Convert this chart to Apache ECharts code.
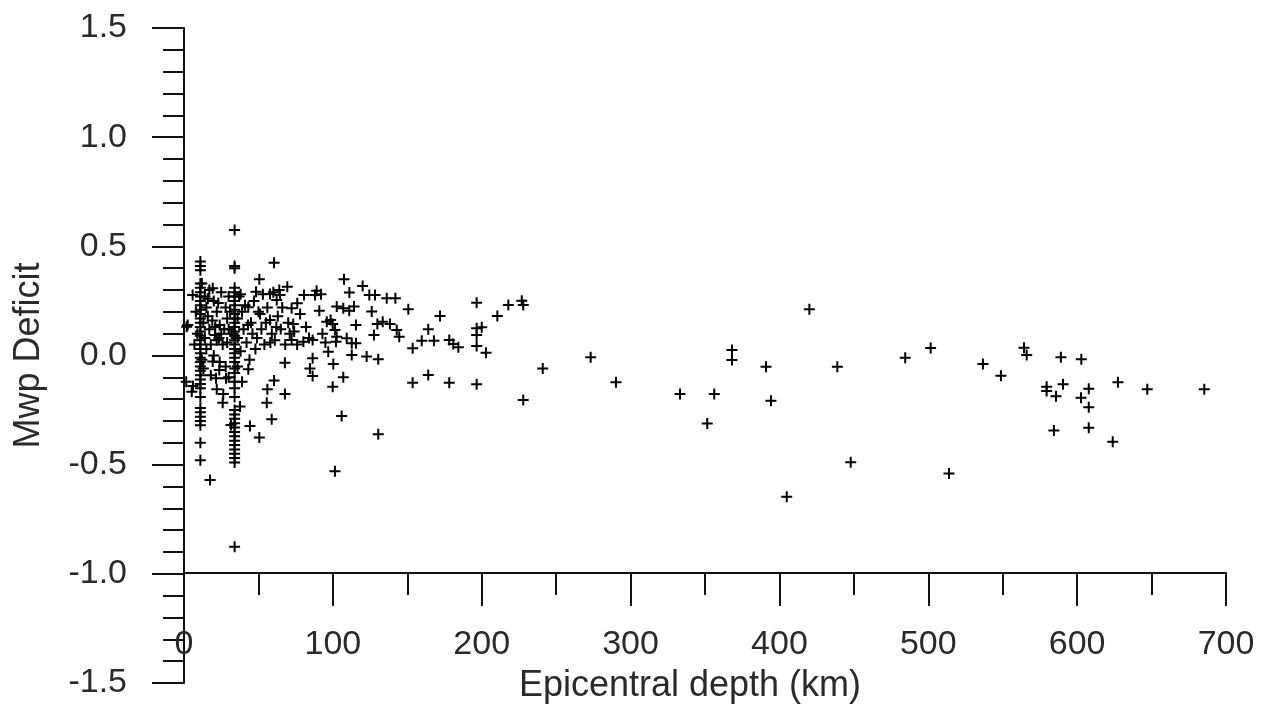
<!DOCTYPE html>
<html>
<head>
<meta charset="UTF-8">
<title>Mwp Deficit vs Epicentral depth</title>
<script src="https://cdn.jsdelivr.net/npm/echarts@6/dist/echarts.min.js"></script>
<style>
  html, body { margin: 0; padding: 0; background: #fff; }
  #main { width: 1263px; height: 711px; }
</style>
</head>
<body>
<div id="main"></div>
<script>
// events at the two default depths (km) : deficits
var depthA = 11;
var deficitA = [0.43, 0.41, 0.39, 0.33, 0.31, 0.29, 0.27, 0.25, 0.23, 0.21, 0.19, 0.17, 0.15, 0.13,
    0.11, 0.09, 0.07, 0.05, 0.03, 0.01, -0.01, -0.03, -0.05, -0.07, -0.09, -0.11, -0.13, -0.15,
    -0.19, -0.24, -0.26, -0.28, -0.30, -0.32, -0.40, -0.48];
var depthB = 34;
var deficitB = [0.575, 0.41, 0.40, 0.31, 0.29, 0.27, 0.25, 0.23, 0.21, 0.19, 0.17, 0.15, 0.13, 0.11,
    0.09, 0.07, 0.05, 0.03, 0.01, -0.01, -0.03, -0.06, -0.08, -0.12, -0.15, -0.19, -0.25, -0.27,
    -0.29, -0.31, -0.33, -0.35, -0.37, -0.39, -0.41, -0.43, -0.45, -0.47, -0.49, -0.876];

// all other events
var depths = [
    1.8, 2.5, 5.8, 19.3, 20.8, 23.5, 43.2, 48.4, 50.6, 51.1, 57.8, 57.8, 60.5, 62.3, 64.0, 64.5, 69.4,
    14, 15, 16, 17, 18, 20, 22, 24, 25, 26, 28, 29, 30, 15, 20, 24, 13, 18, 28, 30, 12, 25, 19, 22,
    37, 39, 40, 42, 45, 47, 49, 52, 54, 56, 59, 61, 63, 65, 68, 70, 66, 38, 44, 48, 53, 60, 71, 74,
    76, 78, 82, 84, 92, 93, 95,
    8, 9, 13, 14, 16, 17, 21, 23, 27, 29, 31, 32, 36, 36, 38, 41, 43, 46, 50, 55, 58, 62, 7, 12, 30,
    36, 39, 6,
    1.5, 5.2, 17.5, 22.0, 26.0, 26.4, 37.6, 43.2, 44.3, 50.6, 55.6, 56.0, 58.9, 60.5, 67.8, 67.8,
    19.3, 23.7, 21.5, 28.2, 31.6,
    72.3, 72.3, 73.4, 76.1, 80.2, 80.6, 84.6, 86.4, 86.4, 86.4, 88.0, 89.1, 90.9, 95.9, 96.9, 98.5,
    99.9, 99.9, 100.3, 101.4, 101.4, 102.1, 102.6, 102.6, 105.9, 107.0, 107.0, 107.5, 109.3, 111.0,
    111.1, 112.7, 112.7, 114.2, 115.5, 115.5, 120.0, 122.7, 124.5, 126.1, 127.6, 128.3, 129.9, 130.5,
    130.5, 133.5, 136.2, 138.4, 142.0, 142.9, 144.6, 150.7, 153.6, 153.6, 159.7, 164.1, 164.1, 167.9,
    172.0, 178.2, 178.2, 180.9, 184.3, 196.6, 196.6, 196.6, 196.6, 196.6, 200.0, 202.9, 210.5, 217.9,
    226.9, 227.9, 227.9, 241.0, 273.2, 290.2, 333.2, 351.5, 356.2, 368.1, 368.1, 391.0, 394.3, 404.9,
    420.1, 438.9, 447.9, 484.5, 501.6, 513.9, 536.7, 548.8, 564.3, 566.1, 579.5, 579.5, 584.4, 585.8,
    589.1, 590.5, 602.6, 602.8, 607.8, 607.8, 607.8, 623.9, 627.4, 647.1, 685.4
];
var deficits = [
    0.132, 0.14, 0.277, 0.308, 0.094, 0.08, 0.221, 0.292, 0.349, 0.190, 0.282, 0.163, 0.425, 0.254, 0.300, 0.277, 0.315,
    0.27, 0.22, 0.18, 0.12, 0.05, 0.25, 0.20, 0.14, 0.10, 0.05, 0.22, 0.17, 0.12, 0.03, 0.00, -0.03, -0.06, -0.09, -0.05, 0.27, 0.33, 0.29, 0.16, 0.07,
    0.27, 0.20, 0.12, 0.06, 0.15, 0.25, 0.08, 0.12, 0.05, 0.22, 0.10, 0.07, 0.18, 0.12, 0.05, 0.15, 0.22, 0.02, -0.02, 0.03, 0.28, 0.29, 0.10, 0.11,
    0.05, 0.19, 0.13, 0.08, 0.28, 0.10, 0.06,
    0.20, 0.10, 0.15, 0.08, 0.26, 0.30, 0.13, 0.24, 0.12, 0.06, 0.20, 0.10, 0.17, 0.08, 0.28, 0.23, 0.14, 0.10, 0.20, 0.15, 0.06, 0.13, 0.05, -0.02, -0.10,
    -0.05, -0.12, -0.14,
    -0.12, -0.166, -0.570, -0.155, -0.216, -0.176, -0.234, -0.063, -0.323, -0.375, -0.216, -0.155, -0.292, -0.115, -0.176, -0.033,
    -0.028, -0.066, -0.104, -0.104, -0.318,
    0.216, 0.071, 0.144, 0.239, 0.063, 0.277, -0.059, 0.071, -0.013, -0.094, 0.277, 0.297, 0.205, 0.155, 0.017, 0.163,
    0.144, -0.143, -0.039, 0.117, -0.530, 0.063, 0.224, 0.086, -0.277, 0.216, -0.100, 0.349, 0.079, 0.205,
    0.288, 0.056, 0.002, 0.224, 0.140, 0.056, 0.318, -0.005, 0.277, 0.201, 0.094, 0.277, 0.144, -0.017,
    -0.361, 0.155, 0.262, 0.144, 0.262, 0.117, 0.086, 0.212, 0.033, -0.125, 0.068, 0.120, -0.089, 0.068,
    0.181, 0.071, -0.125, 0.053, 0.038, 0.242, 0.125, 0.094, 0.044, -0.132, 0.129, 0.013, 0.181, 0.231,
    0.251, 0.231, -0.204, -0.060, -0.008, -0.123, -0.176, -0.311, -0.176, 0.025, -0.021, -0.051, -0.207, -0.647,
    0.212, -0.051, -0.489, -0.010, 0.034, -0.540, -0.039, -0.093, 0.036, 0.002, -0.143, -0.163, -0.344, -0.187,
    -0.008, -0.132, -0.193, -0.017, -0.152, -0.237, -0.331, -0.395, -0.123, -0.155, -0.155
];

var xTicks = [0, 100, 200, 300, 400, 500, 600, 700];
var yTicks = [-1.5, -1.0, -0.5, 0.0, 0.5, 1.0, 1.5];

var points = [];
deficitA.forEach(function (v) { points.push([depthA, v]); });
deficitB.forEach(function (v) { points.push([depthB, v]); });
depths.forEach(function (d, i) { points.push([d, deficits[i]]); });

var ink = '#111';
var textInk = '#2a2a2a';
var labelFont = {color: textInk, fontSize: 34, fontFamily: 'Liberation Sans, Arial, sans-serif'};
var plus = 'path://M4.5,0H6.5V4.5H11V6.5H6.5V11H4.5V6.5H0V4.5H4.5Z';

var myChart = echarts.init(document.getElementById('main'));

var option = {
    animation: false,
    backgroundColor: '#fff',
    grid: [
        {left: 184, right: 37, top: 28, bottom: 28, outerBoundsMode: 'none'},
        {left: 184, right: 37, top: 28, bottom: 138, outerBoundsMode: 'none'}
    ],
    xAxis: [
        {gridIndex: 0, type: 'value', min: xTicks[0], max: xTicks[xTicks.length - 1], show: false},
        {
            gridIndex: 1, type: 'value', position: 'bottom',
            min: xTicks[0], max: xTicks[xTicks.length - 1], interval: 100,
            name: 'Epicentral depth (km)', nameLocation: 'middle', nameGap: 95,
            nameTextStyle: {color: textInk, fontSize: 36, fontFamily: 'Liberation Sans, Arial, sans-serif', padding: [0, 30, 0, 0]},
            axisLine: {onZero: false, lineStyle: {color: ink, width: 2}},
            axisTick: {length: 33, lineStyle: {color: ink, width: 2}},
            minorTick: {show: true, splitNumber: 2, length: 22, lineStyle: {color: ink, width: 2}},
            axisLabel: Object.assign({margin: 55, showMinLabel: true, showMaxLabel: true}, labelFont),
            splitLine: {show: false}
        }
    ],
    yAxis: [
        {
            gridIndex: 0, type: 'value',
            min: yTicks[0], max: yTicks[yTicks.length - 1], interval: 0.5,
            name: 'Mwp Deficit', nameLocation: 'middle', nameGap: 137, nameRotate: 90,
            nameTextStyle: {color: textInk, fontSize: 36, fontFamily: 'Liberation Sans, Arial, sans-serif'},
            axisLine: {onZero: false, lineStyle: {color: ink, width: 2}},
            axisTick: {length: 32, lineStyle: {color: ink, width: 2}},
            minorTick: {show: true, splitNumber: 5, length: 21, lineStyle: {color: ink, width: 2}},
            axisLabel: Object.assign({
                margin: 57, showMinLabel: true, showMaxLabel: true,
                formatter: function (v) { return v.toFixed(1); }
            }, labelFont),
            splitLine: {show: false}
        },
        {gridIndex: 1, type: 'value', min: -1.0, max: 1.5, show: false}
    ],
    series: [
        {
            type: 'scatter',
            xAxisIndex: 0,
            yAxisIndex: 0,
            symbol: plus,
            symbolSize: 11,
            itemStyle: {color: '#000', opacity: 1},
            data: points
        }
    ]
};

myChart.setOption(option);
</script>
</body>
</html>
